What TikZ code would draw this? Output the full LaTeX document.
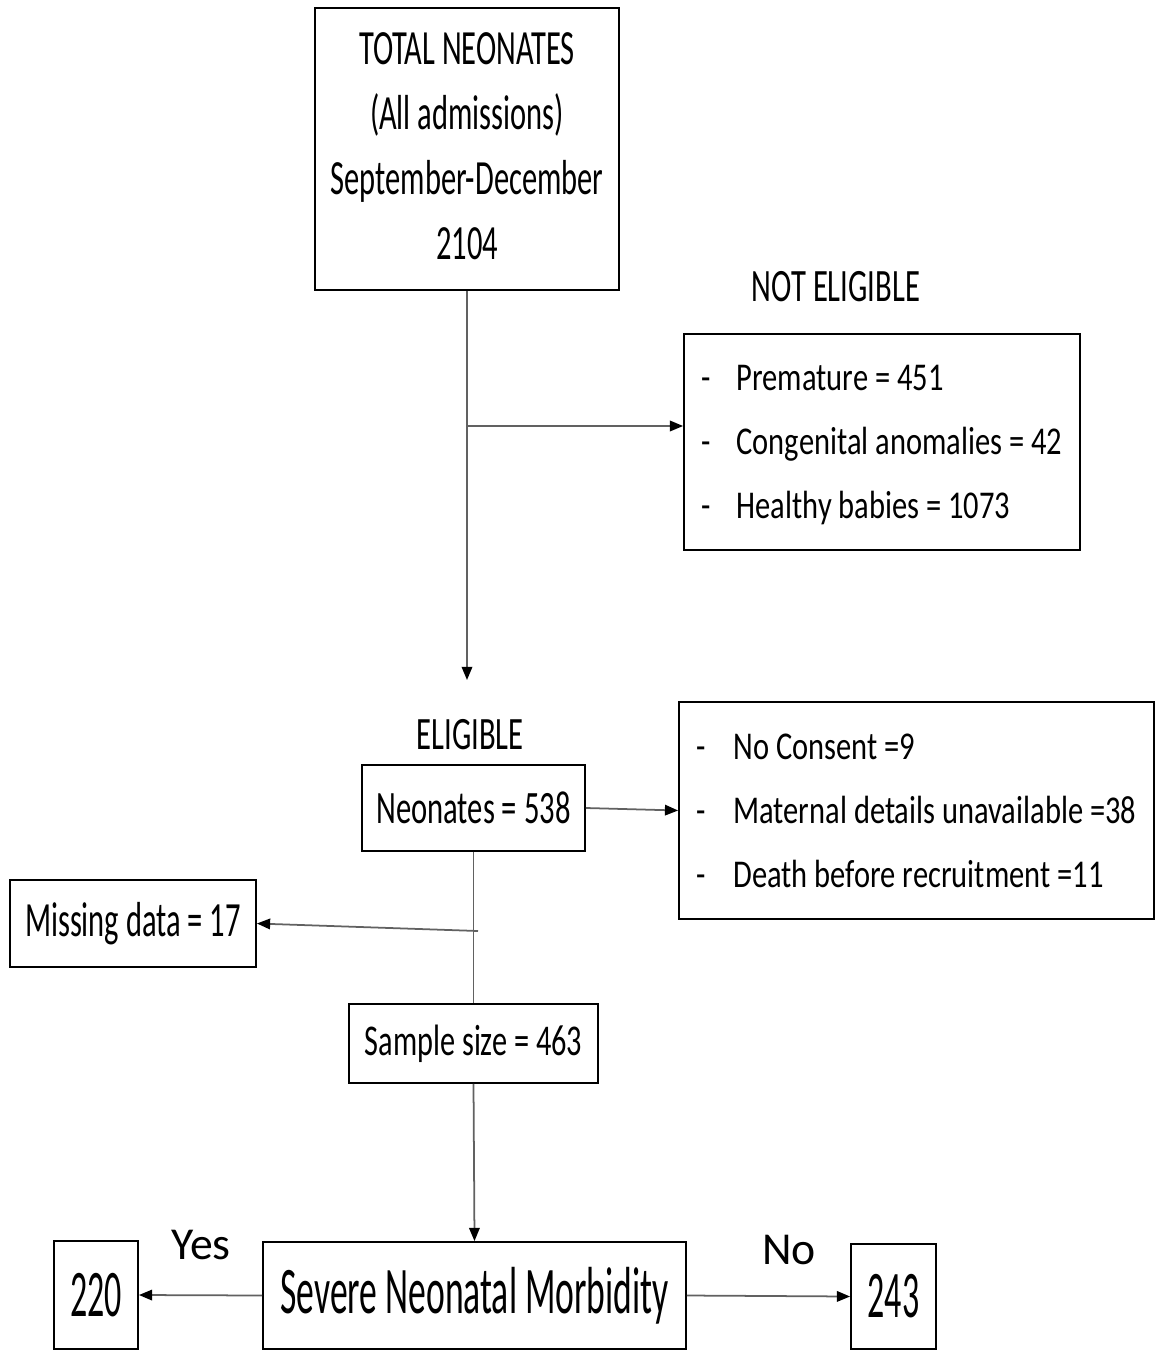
\documentclass[tikz,border=0pt]{standalone}
\usepackage{fontspec}
\usepackage{graphicx}
\setmainfont{Carlito}
\usetikzlibrary{arrows.meta}

% schmale Schrift wie im Original
\newcommand{\squeezetext}[2]{\scalebox{#1}[1]{#2}}

\begin{document}
\begin{tikzpicture}[x=0.02cm, y=-0.02cm, >={Triangle[length=7.5pt,width=6pt,color=black]},
    box/.style={draw, line width=1.1pt, inner sep=0pt},
    link/.style={black!62, line width=1pt}]
  \useasboundingbox (0,0) rectangle (1155,1351);

  % Kaestchen
  \node[box, minimum width=6.08cm, minimum height=5.64cm] (total) at (467,149)
    {\fontsize{28}{36.9}\selectfont\squeezetext{0.62}{\begin{tabular}{@{}c@{}}TOTAL NEONATES\\(All admissions)\\September-December\\2104\end{tabular}}};
  \node (noteliglab) at (836,287) {\fontsize{26.4}{30}\selectfont\squeezetext{0.66}{NOT ELIGIBLE}};
  \node[box, minimum width=7.92cm, minimum height=4.32cm] (notelig) at (882,442)
    {\fontsize{22.4}{36.3}\selectfont\squeezetext{0.775}{\begin{tabular}{@{}l@{}}\makebox[25.7pt][l]{-}Premature = 451\\\makebox[25.7pt][l]{-}Congenital anomalies = 42\\\makebox[25.7pt][l]{-}Healthy babies = 1073\end{tabular}}};
  \node (eliglab) at (470,735) {\fontsize{26.4}{30}\selectfont\squeezetext{0.66}{ELIGIBLE}};
  \node[box, minimum width=4.46cm, minimum height=1.72cm] (neonates) at (473.5,808)
    {\fontsize{26.4}{30}\selectfont\squeezetext{0.66}{Neonates = 538}};
  \node[box, minimum width=9.5cm, minimum height=4.34cm] (excl) at (916.5,810.5)
    {\fontsize{22.4}{36.3}\selectfont\squeezetext{0.775}{\begin{tabular}{@{}l@{}}\makebox[27pt][l]{-}No Consent =9\\\makebox[27pt][l]{-}Maternal details unavailable =38\\\makebox[27pt][l]{-}Death before recruitment =11\end{tabular}}};
  \node[box, minimum width=4.92cm, minimum height=1.74cm] (missing) at (133,923.5)
    {\fontsize{28}{30}\selectfont\squeezetext{0.62}{Missing data = 17}};
  \node[box, minimum width=4.98cm, minimum height=1.58cm] (sample) at (473.5,1043.5)
    {\fontsize{25}{30}\selectfont\squeezetext{0.69}{Sample size = 463}};
  \node[box, minimum width=8.46cm, minimum height=2.14cm] (snm) at (474.5,1295.5)
    {\fontsize{37.9}{40}\selectfont\squeezetext{0.535}{Severe Neonatal Morbidity}};
  \node[box, minimum width=1.68cm, minimum height=2.16cm] (yesbox) at (96,1295)
    {\fontsize{37.9}{40}\selectfont\squeezetext{0.51}{220}};
  \node[box, minimum width=1.70cm, minimum height=2.10cm] (nobox) at (893.5,1296.5)
    {\fontsize{37.9}{40}\selectfont\squeezetext{0.51}{243}};
  \node (yeslab) at (201,1245) {\fontsize{26}{30}\selectfont Yes};
  \node (nolab) at (789,1250) {\fontsize{26}{30}\selectfont No};

  % Pfeile
  \coordinate (split1) at (467,426);
  \coordinate (eligin) at (467,680);
  \coordinate (split2) at (478,931);
  \draw[link, ->] (total.south) -- (eligin);
  \draw[link, ->] (split1) -- (split1 -| notelig.west);
  \draw[link, ->] (neonates.east) -- (excl.west);
  \draw[link] (neonates.south) -- (sample.north);
  \draw[link, ->] (split2) -- (missing.east);
  \draw[link, ->] (sample.south) -- (snm.north);
  \draw[link, ->] (snm.west) -- (yesbox.east);
  \draw[link, ->] (snm.east) -- (nobox.west);
\end{tikzpicture}
\end{document}
